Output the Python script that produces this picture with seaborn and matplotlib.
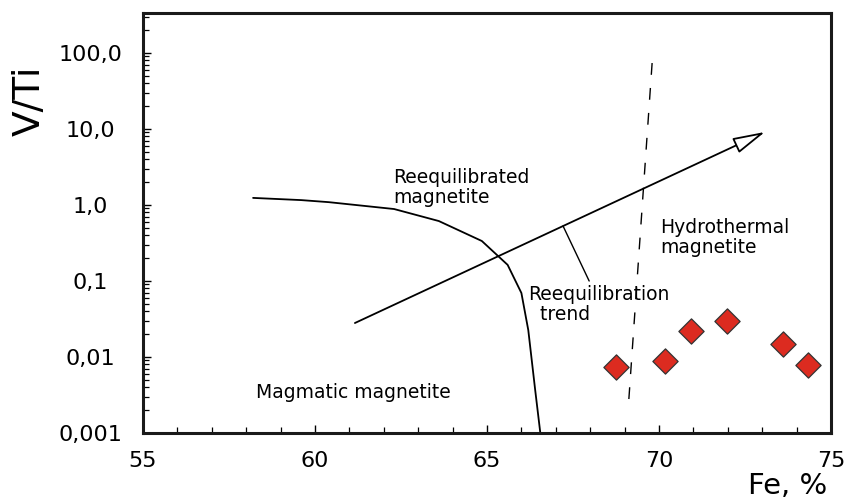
import matplotlib
matplotlib.use("Agg")
import matplotlib.pyplot as plt
import seaborn as sns
import pandas as pd
from matplotlib.ticker import FixedLocator, FixedFormatter, LogLocator, MultipleLocator, NullFormatter

# ---- data ----
boundary_fe = [58.2, 59.6, 60.4, 62.3, 63.6, 64.85, 65.6, 66.0, 66.2, 66.4, 66.55]
boundary_vti = [1.24, 1.16, 1.09, 0.885, 0.615, 0.336, 0.163, 0.0695, 0.0226, 0.0037, 0.001]

hydro_fe = [69.8, 69.1]
hydro_vti = [73.8, 0.00195]

trend_start = (61.16, 0.028)
trend_end = (73.08, 9.14)
leader_fe = [67.21, 67.97]
leader_vti = [0.53, 0.10]

sample_fe = [68.75, 70.17, 70.93, 71.98, 73.60, 74.33]
sample_vti = [0.0074, 0.0089, 0.022, 0.030, 0.0148, 0.0079]

ytick_vals = [0.001, 0.01, 0.1, 1, 10, 100]
ytick_labels = ["0,001", "0,01", "0,1", "1,0", "10,0", "100,0"]
xtick_vals = [55, 60, 65, 70, 75]
xtick_labels = ["55", "60", "65", "70", "75"]

sns.set_theme(style="white")
plt.rcParams["font.family"] = ["DejaVu Sans"]
plt.rcParams["text.color"] = "black"
plt.rcParams["axes.labelcolor"] = "black"
plt.rcParams["xtick.color"] = "black"
plt.rcParams["ytick.color"] = "black"

fig = plt.figure(figsize=(8.54, 5.0), dpi=100)
ax = fig.add_axes([143 / 854, 67 / 500, 688 / 854, 420 / 500])

df_b = pd.DataFrame({"fe": boundary_fe, "vti": boundary_vti})
sns.lineplot(data=df_b, x="fe", y="vti", ax=ax, color="black", lw=1.3, sort=False, estimator=None)

df_h = pd.DataFrame({"fe": hydro_fe, "vti": hydro_vti})
sns.lineplot(data=df_h, x="fe", y="vti", ax=ax, color="black", lw=1.0, sort=False,
             estimator=None, dashes=False, linestyle=(0, (8.5, 9.5)))

df_l = pd.DataFrame({"fe": leader_fe, "vti": leader_vti})
sns.lineplot(data=df_l, x="fe", y="vti", ax=ax, color="black", lw=1.0, sort=False, estimator=None)

ax.annotate("", xy=trend_end, xytext=trend_start,
            arrowprops=dict(arrowstyle="-|>,head_length=2.0,head_width=0.5",
                            fc="white", ec="black", lw=1.3, shrinkA=0, shrinkB=0,
                            mutation_scale=10))

df_s = pd.DataFrame({"fe": sample_fe, "vti": sample_vti})
sns.scatterplot(data=df_s, x="fe", y="vti", ax=ax, marker="D", s=165,
                color="#dc2b20", edgecolor="#333333", linewidth=0.9, zorder=5)

ax.set_yscale("log")
ax.set_xlim(55, 75)
ax.set_ylim(0.001, 336)

ax.yaxis.set_major_locator(FixedLocator(ytick_vals))
ax.yaxis.set_major_formatter(FixedFormatter(ytick_labels))
ax.yaxis.set_minor_locator(LogLocator(base=10, subs=range(2, 10)))
ax.yaxis.set_minor_formatter(NullFormatter())
ax.xaxis.set_major_locator(FixedLocator(xtick_vals))
ax.xaxis.set_major_formatter(FixedFormatter(xtick_labels))
ax.xaxis.set_minor_locator(MultipleLocator(1))

ax.tick_params(axis="both", which="both", direction="in", color="black",
               left=True, bottom=True, top=False, right=False)
ax.tick_params(axis="both", which="major", length=6, width=1.0, labelsize=16,
               labelcolor="black")
ax.tick_params(axis="both", which="minor", length=4, width=0.9)
ax.tick_params(axis="y", which="major", pad=38)
ax.tick_params(axis="x", which="major", pad=13)
for lab in ax.get_yticklabels():
    lab.set_horizontalalignment("center")

for sp in ax.spines.values():
    sp.set_color("#1a1a1a")
    sp.set_linewidth(2.2)
    sp.set_visible(True)

ax.set_xlabel("")
ax.set_ylabel("V/Ti", fontsize=27, ha="center", va="center", color="black")
ax.yaxis.set_label_coords(-0.164, 0.79)

tkw = dict(fontsize=13.5, color="black", linespacing=1.05)
ax.text(62.27, 3.07, "Reequilibrated\nmagnetite", ha="left", va="top", **tkw)
ax.text(66.19, 0.0885, "Reequilibration\n  trend", ha="left", va="top", **tkw)
ax.text(70.03, 0.675, "Hydrothermal\nmagnetite", ha="left", va="top", **tkw)
ax.text(58.28, 0.00336, "Magmatic magnetite", ha="left", va="center", **tkw)

fig.text(748 / 854, 6 / 500, "Fe, %", fontsize=21, ha="left", va="baseline", color="black")

fig.savefig("out.png", dpi=100)
